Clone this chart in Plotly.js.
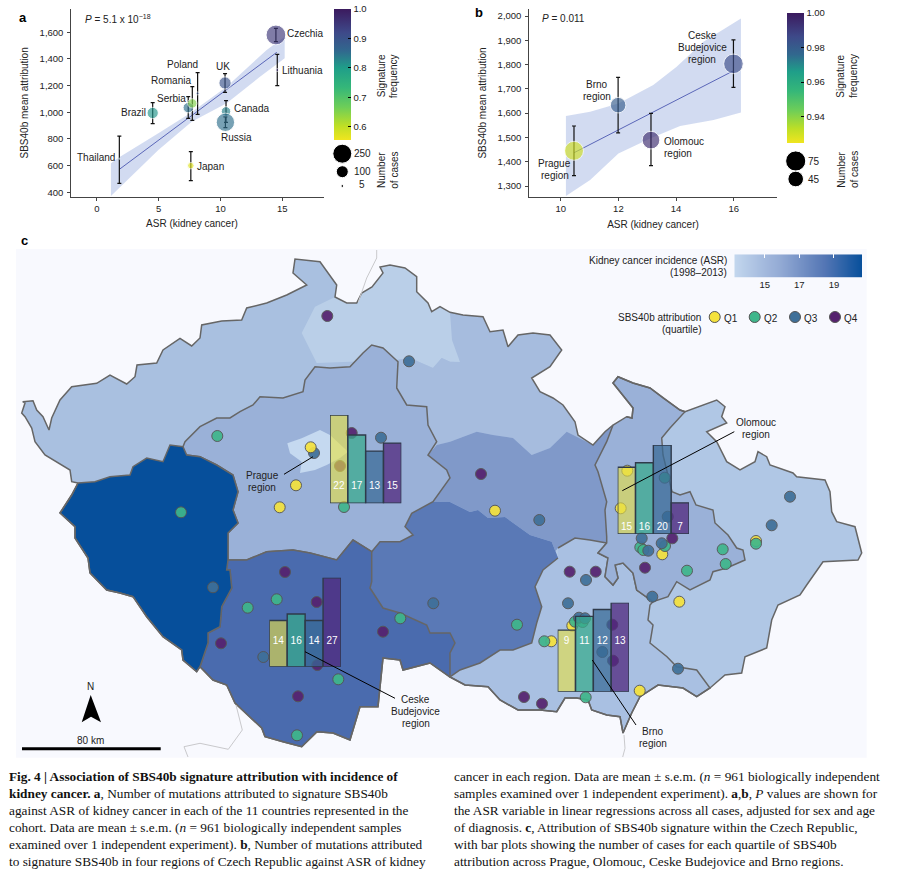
<!DOCTYPE html>
<html><head><meta charset="utf-8">
<script src="https://cdn.plot.ly/plotly-3.0.1.min.js"></script>
<style>html,body{margin:0;padding:0;background:#fff}#c{width:902px;height:882px}</style></head>
<body><div id="c"></div>
<script>
// ---------- panel a data ----------
const countries=['Thailand','Brazil','Japan','Serbia','Romania','Poland','UK','Canada','Russia','Czechia','Lithuania'];
const aAsr=[1.81,4.51,7.6,7.39,7.72,8.15,10.37,10.45,10.4,14.49,14.6];
const aMean=[652,995,600,1035,1067,1142,1220,1007,925,1580,1317];
const aErrUp=[170,77,105,82,125,155,70,80,40,50,118];
const aErrDown=[185,80,113,80,127,157,70,82,40,50,117];
const aCases=[1,89,30,75,62,6,105,62,235,273,6];
const aFreq=[0.8,0.81,0.57,0.85,0.65,0.9,0.9,0.83,0.85,0.95,0.97];
const aLineX=[1.81,14.56], aLineY=[572,1450];
const aBandX=[1.13,1.87,4.97,7.54,10.5,13.74,15.2,15.2,13.2,10.5,7.67,4.97,1.13];
const aBandY=[617,667,842,992,1192,1467,1567,1405,1267,1067,930,717,372];
// ---------- panel b data ----------
const regions=['Prague','Brno','Olomouc','Ceske Budejovice'];
const bAsr=[10.46,11.99,13.13,15.99];
const bMean=[1445,1633,1489,1803];
const bErrUp=[102,114,110,99];
const bErrDown=[102,114,105,97];
const bCases=[67,45,58,71];
const bFreq=[0.93,0.98,0.995,0.985];
const bLineX=[10.46,16], bLineY=[1437,1775];
const bBandX=[10.18,11.02,12,13.21,14.02,14.95,16.25,16.25,15.3,14.14,13.1,12,11.02,10.18];
const bBandY=[1588,1606,1640,1716,1791,1894,1990,1603,1572,1547,1496,1434,1325,1259];
// ---------- map outline segments (map units) ----------
const segA=[[78,483],[71.7,481.7],[70,470],[45,455],[35,441.7],[31.7,428],[25,416.7],[21.7,413],[25,403],[22.7,401.7],[33,400.7],[36.7,410],[43,416.7],[49,430],[51.7,418],[60,400],[71.7,386.7],[96.7,383.3],[110,375],[126.7,384],[135,376.7],[137,365],[156.7,363],[163,350],[180,338.3],[191.7,346],[200,338],[201.7,325],[221.7,321],[241.7,320],[246.7,308],[266.7,303],[286.7,295],[306.7,285],[293,273],[295,259],[320,261.7],[336.7,285],[335,297]];
const segB=[[346.7,303],[356.7,303],[361.7,293],[372,287],[383,273],[380,267],[390,265],[405,268],[416.7,276.7],[416.7,291.7],[428,303],[431.7,311.7],[440,306.7],[450,312.3]];
const segC=[[463,315],[483,316.7],[490,331.7],[503,330],[508,346.7],[518,335],[533,333],[550,335],[561.7,350],[550,366.7],[531.7,378],[540,391.7],[553,398],[563,405],[575,421.7],[578,435],[593,445]];
const segD=[[605,431.7],[613,425]];
const segD2=[[626.7,416.7],[632,418],[633,408],[613,383],[618,376.7],[633,383],[650,388],[663,398],[680,410],[685,411.7]];
const segE=[[716.7,400],[725,406.7],[721.7,416.7],[726.7,423],[706.7,431.7],[716.7,441.7],[726.7,461.7],[740,470],[755,461.7],[758,451.7],[766.7,456.7],[770,465],[793,473],[796.7,476.7],[825,480],[830,491.7],[831.7,511.7],[836.7,521.7],[855,526.7],[861.7,553],[858,560],[823,561.7],[806.7,585],[800,595],[778,605],[771.7,620],[766.7,648],[745,656.7],[741.7,673],[725,675],[710,688]];
const segF=[[696.7,696.7],[683,688],[658,685],[640,696.7],[631.7,713],[623,733],[620,716.7],[606.7,715],[591.7,710],[588,700],[576.7,698],[565,698],[556.7,711.7],[540,710],[518,710],[500,700],[488,686.7],[465,685],[450,677]];
const segG=[[430,663],[403,670],[400,660],[383,658],[378,706.7],[360,706.7],[350,740],[333,733],[317,731.7],[301.7,746.7],[283,741.7],[265,736.7],[261.7,728],[235,703],[226.7,685],[213,680],[200,666.7]];
const segH=[[196.7,671.7],[183,660],[181.7,650],[163,636.7],[146.7,616.7],[133,596.7],[120,593],[106.7,590],[90,573],[88,558],[75,538],[75,526.7],[60,513],[71.7,495],[78,483]];
const plzenNorth=[[95,481.7],[110,476.7],[130,475],[133,466.7],[146.7,458],[163,461.7],[170,445],[183,446.7],[186.7,455],[200,456.7],[216.7,465],[233,475],[238,491.7],[233,510],[238,523],[228,533],[228,560]];
const plzenEast=[[226.7,570],[230,570],[231.7,588],[221.7,606.7],[220,626.7],[208,633],[208,643],[200,666.7]];
const centralNorth=[[185,441.7],[200,426.7],[216.7,418],[230,418],[240,411.7],[253,405],[260,396.7],[283,398],[303,391.7],[305,380],[315,366.7],[330,368],[350,366.7],[363,353],[371.7,345],[383,348],[398,361.7],[396.7,388],[406.7,405],[426.7,406.7],[428,425],[436.7,441.7],[428,455],[446.7,470],[450,478],[433,501.7],[411.7,513.3],[405,526.7],[413,535],[400,541.7],[380,541.7],[371.7,551.7]];
const sbNorth=[[246.7,560],[266.7,551.7],[293,550],[310,553],[336.7,560],[353,540],[371.7,551.7]];
const sbEast=[[371.7,581.7],[370,588],[383,608],[400,613],[426.7,625],[430,633],[450,633],[455,643],[450,653],[450,677]];
const vysBorder=[[450,502],[470,512],[478,510],[488,518],[505,517],[530,535],[551.7,541.7],[558,558],[543,570],[535,586.7],[541.7,606.7],[536.7,623],[531.7,643],[513,650],[500,650],[480,663],[460,670],[450,677]];
const liberecEdge=[[460,362],[450,361.7],[441.7,358],[433,368],[410,358],[396.7,360],[316.7,363],[301.7,333],[315,306.7]];
const pardNorth=[[593,445],[566.7,431.7],[550,448],[531.7,455],[513,438],[493,435],[476.7,431.7],[450,441.7],[436.7,445]];
const brnoNorth=[[558,548],[575,538],[590,540],[606.7,543]];
const brnoEast=[[598,553],[608,558],[605,576.7],[613,585],[618,578],[615,565],[623,563],[633,573],[636.7,590],[653,601.7],[650,605],[648,620],[653,625],[650,643],[667,656.7],[676.7,666.7],[696.7,670],[710,688]];
const olomoucWest=[[613,425],[606.7,441.7],[595,465],[598,471.7],[606.7,501.7],[605,510],[606.7,536.7],[606.7,543],[598,553]];
const olomoucSouth=[[608,558],[605,576.7],[613,585],[618,578],[615,565],[623,563],[633,573],[636.7,590],[653,601.7],[668,596.7],[676.7,581.7],[690,590],[710,580],[713,571.7],[726.7,568],[745,560],[743,550],[736.7,548],[728,535],[715,523],[713,510],[696,505],[690,491.7],[680,495],[672,491.7],[663,455],[661.7,438],[670,428],[685,411.7]];
const pragueCity=[[287.3,443.3],[301.7,438.3],[320,430],[330,435],[348,451.7],[340,458],[326.7,465],[315,470],[300,473],[301.7,461.7],[290,453.3],[287.3,443.3]];
const riverNorth=[[376.7,250],[376.7,258],[366.7,278],[358.3,302]];
const riverSouthWest=[[236,705],[242.3,730],[228.3,749.3],[200,743.3],[184,746.7],[188,757]];
const riverSouthEast=[[624,735],[625,748.3],[622.7,757]];
// ---------- SBS40b sites by quartile ----------
const q1Sites=[[296,485.3],[279.7,507.3],[495,510.7],[627.3,470.7],[620.7,508.3],[756,541],[662.3,554.3],[679.3,601.7],[572.3,625.7],[551.3,641.3],[639.7,690.7]];
const q2Sites=[[217.3,436],[344,507],[181,512.3],[664.7,477.7],[756,543.7],[722.7,549.3],[640.3,547.3],[643.3,550],[665,546],[725.7,564],[687,570.7],[575,621.7],[582.7,622],[517,624.7],[544.3,641.3],[585.7,697.3],[276.7,599.3],[247.7,607.7],[400.3,618.3],[338.3,679.3],[297,735.3]];
const q3Sites=[[409,361.3],[314,453],[381,437.7],[790,496.7],[667.7,516.7],[539.3,520],[771.7,525.3],[641.7,538.3],[648.3,550.7],[661.7,543.3],[586,580],[652.3,596.7],[568,603.3],[579,617.7],[585,618.3],[602.3,652],[678,668.7],[213,587.3],[433.3,603.3],[263.3,657]];
const q4Sites=[[327.3,316],[351.7,433],[340,466],[481,474],[672.3,538.3],[645,567.7],[569.7,571.7],[595.7,571.7],[612.3,624.7],[613,660.7],[524,697],[542,703.7],[285,572],[316.7,602],[383,631.7],[221,643.3],[317.3,665],[298,696.3]];
const q1TopSite=[[310.7,447.3]];
const quartileNames=['Q1','Q2','Q3','Q4'];
const pragueBars=[22,17,13,15], olomoucBars=[15,16,20,7], ceskeBars=[14,16,14,27], brnoBars=[9,11,12,13];
const asrScale=[13.24,14,15,16,17,18,19,20,20.62];
const aSizeLegend=[250,100,5], bSizeLegend=[75,45];

// ---------- helpers ----------
const W=902,H=882;
const fx=p=>p/W, fy=p=>1-p/H;
const FONT='"Liberation Sans",Arial,sans-serif', TXT='#222';
const xs=a=>a.map(p=>p[0]), ys=a=>a.map(p=>p[1]);
const poly=(pts,fill,line)=>({type:'scatter',mode:line?'lines':'none',x:xs(pts),y:ys(pts),fill:'toself',fillcolor:fill,
  line:line?{color:'#666',width:1.5}:{width:0},hoverinfo:'skip',showlegend:false,xaxis:'x',yaxis:'y'});
const seq=(...s)=>s.flat();
const outer=seq(segA,segB,segC,segD,segD2,segE,segF,segG,segH);
const viridisR=[[0,'#f0e51f'],[0.11,'#bddf26'],[0.25,'#6ece58'],[0.4,'#35b779'],[0.55,'#1f9e89'],[0.68,'#31688e'],[0.82,'#3e4989'],[1,'#3b1a5e']];
const traces=[];
// country fills
traces.push(poly(outer,'#b0c7e5',false));
traces.push(poly(seq(segA,segB,[[450,361.7],[433,368],[410,358],[396.7,360]],centralNorth.slice(0,16).reverse(),[[183,446.7]],plzenNorth.slice(0,8).reverse()),'#a9c0e0',false));
traces.push(poly(seq([[335,297]],segB,liberecEdge),'#bacfe8',false));
traces.push(poly(seq([[450,312.3]],[[452,340],[460,362]],[[450,361.7],[441.7,358],[433,368],[410,358],[396.7,360]],[[396.7,388],[406.7,405],[426.7,406.7],[428,425],[436.7,445]],pardNorth.slice().reverse(),segC.slice().reverse()),'#a6bcde',false));
traces.push(poly(seq(pardNorth,[[428,455],[446.7,470],[450,478],[433,501.7]],vysBorder,[[558,548],[575,538],[590,540],[606.7,543],[606.7,501.7],[598,471.7],[595,465],[606.7,441.7],[613,425],[605,431.7]]),'#8099c9',false));
traces.push(poly(seq([[411.7,513.3],[433,501.7]],vysBorder,sbEast.slice().reverse(),[[371.7,551.7],[380,541.7],[400,541.7],[413,535],[405,526.7]]),'#5a79b6',false));
// outlined regions
traces.push(poly(seq(brnoNorth,brnoEast,segF,vysBorder.slice(7).reverse()),'#a9c0e2',true));
traces.push(poly(seq(olomoucWest,olomoucSouth,segD2.slice().reverse()),'#9ab1d8',true));
traces.push(poly(seq([[183,446.7]],centralNorth,sbNorth.slice().reverse(),[[228,560]],plzenNorth.slice(8).reverse()),'#9ab1d8',true));
traces.push(poly(seq([[228,560]],sbNorth,sbEast,segG,plzenEast.slice().reverse()),'#4a6bae',true));
traces.push(poly(seq([[78,483]],plzenNorth,plzenEast,segH),'#064f9b',true));
traces.push(poly(pragueCity,'#c5d9f0',false));
traces.push({type:'scatter',mode:'lines',x:xs(outer),y:ys(outer),line:{color:'#666',width:1.5},hoverinfo:'skip',showlegend:false});
[riverNorth,riverSouthWest,riverSouthEast].forEach(r=>traces.push({type:'scatter',mode:'lines',x:xs(r),y:ys(r),line:{color:'#c9c9cc',width:1},hoverinfo:'skip',showlegend:false}));
// sites
const siteColor={Q1:'#f5e23c',Q2:'#3fb68b',Q3:'#3f7099',Q4:'#55226e'};
[['Q1',q1Sites],['Q2',q2Sites],['Q3',q3Sites],['Q4',q4Sites],['Q1',q1TopSite]].forEach(([q,pts])=>traces.push({type:'scatter',mode:'markers',x:xs(pts),y:ys(pts),
  marker:{size:11,color:siteColor[q],opacity:0.92,line:{color:'#555',width:1}},name:q,hoverinfo:'skip',showlegend:false}));
// quartile legend
const qLegendX=[714.7,754.7,795,835];
traces.push({type:'scatter',mode:'markers',x:qLegendX,y:qLegendX.map(()=>317),marker:{size:11,color:quartileNames.map(q=>siteColor[q]),line:{color:'#555',width:1}},hoverinfo:'skip',showlegend:false});
// size legends
const aRef=1.392,bRef=0.37;
traces.push({type:'scatter',mode:'markers',x:[342.3,342.3,342.3],y:[153.7,171.7,186],marker:{color:'#000',opacity:1,size:aSizeLegend,sizemode:'area',sizeref:aRef},hoverinfo:'skip',showlegend:false});
traces.push({type:'scatter',mode:'markers',x:[795.7,795.7],y:[161,179],marker:{color:'#000',opacity:1,size:bSizeLegend,sizemode:'area',sizeref:bRef},hoverinfo:'skip',showlegend:false});

const tickF={family:FONT,size:9.5,color:TXT};
const cbar=(left,bottom,len,vals,fmt)=>({x:fx(left),xanchor:'left',xpad:0,ypad:0,y:fy(bottom),yanchor:'bottom',lenmode:'pixels',len:len,thicknessmode:'pixels',thickness:17,outlinewidth:0,
  tickvals:vals,tickformat:fmt,ticks:'inside',ticklen:3,tickcolor:'#000',tickfont:tickF});
// panel a
traces.push({type:'scatter',mode:'none',x:aBandX,y:aBandY,fill:'toself',fillcolor:'rgba(130,155,215,0.36)',xaxis:'x2',yaxis:'y2',hoverinfo:'skip',showlegend:false});
traces.push({type:'scatter',mode:'lines',x:aLineX,y:aLineY,line:{color:'#5a66b8',width:1},xaxis:'x2',yaxis:'y2',hoverinfo:'skip',showlegend:false});
const aMarker={size:aCases,sizemode:'area',sizeref:aRef,color:aFreq,cmin:0.5546,cmax:1,colorscale:viridisR,opacity:0.65,showscale:true,colorbar:cbar(334,140,130.7,[0.6,0.7,0.8,0.9,1],'.1f')};
traces.push({type:'scatter',mode:'markers',x:aAsr,y:aMean,text:countries,xaxis:'x2',yaxis:'y2',showlegend:false,
  error_y:{type:'data',symmetric:false,array:aErrUp,arrayminus:aErrDown,color:'#111',thickness:1.2,width:2},marker:aMarker});
// panel b
traces.push({type:'scatter',mode:'none',x:bBandX,y:bBandY,fill:'toself',fillcolor:'rgba(130,155,215,0.36)',xaxis:'x3',yaxis:'y3',hoverinfo:'skip',showlegend:false});
traces.push({type:'scatter',mode:'lines',x:bLineX,y:bLineY,line:{color:'#5a66b8',width:1},xaxis:'x3',yaxis:'y3',hoverinfo:'skip',showlegend:false});
const bMarker={size:bCases,sizemode:'area',sizeref:bRef,color:bFreq,cmin:0.925,cmax:1,colorscale:viridisR,opacity:0.65,showscale:true,colorbar:cbar(787.3,142.7,130.4,[0.94,0.96,0.98,1],'.2f')};
traces.push({type:'scatter',mode:'markers',x:bAsr,y:bMean,text:regions,xaxis:'x3',yaxis:'y3',showlegend:false,
  error_y:{type:'data',symmetric:false,array:bErrUp,arrayminus:bErrDown,color:'#111',thickness:1.2,width:2},marker:bMarker});
// incidence scale
traces.push({type:'heatmap',x:asrScale,y:[0,1],z:[asrScale,asrScale],zsmooth:'best',xaxis:'x4',yaxis:'y4',showscale:false,hoverinfo:'skip',
  colorscale:[[0,'#c3d7ee'],[0.35,'#94abd5'],[0.7,'#5577b5'],[1,'#064f9b']]});

// ---------- layout ----------
const axisBase={showline:true,linecolor:'#444',linewidth:1,showgrid:false,zeroline:false,ticks:'outside',ticklen:3,tickcolor:'#444',tickwidth:1,tickfont:tickF,fixedrange:true};
const titleF={family:FONT,size:10,color:TXT};
const layout={width:W,height:H,margin:{l:0,r:0,t:0,b:0},paper_bgcolor:'#fff',plot_bgcolor:'rgba(0,0,0,0)',showlegend:false,bargap:0,
  xaxis:{domain:[0,1],range:[0,W],visible:false,fixedrange:true},
  yaxis:{domain:[0,1],range:[H,0],visible:false,fixedrange:true},
  xaxis2:{...axisBase,domain:[fx(71.3),fx(323.7)],range:[-2.08,18.36],tickvals:[0,5,10,15],anchor:'y2',title:{text:'ASR (kidney cancer)&nbsp;&nbsp;&nbsp;&nbsp;',font:titleF,standoff:7}},
  yaxis2:{...axisBase,domain:[fy(196.5),fy(9.3)],range:[368.5,1772.5],tickvals:[400,600,800,1000,1200,1400,1600],tickformat:',',ticklabelstandoff:2,anchor:'x2',title:{text:'SBS40b mean attribution',font:titleF,standoff:9}},
  xaxis3:{...axisBase,domain:[fx(529.3),fx(776.7)],range:[8.91,17.49],tickvals:[10,12,14,16],anchor:'y3',title:{text:'ASR (kidney cancer)',font:titleF,standoff:7}},
  yaxis3:{...axisBase,domain:[fy(196.7),fy(9.3)],range:[1256,2027.6],tickvals:[1300,1400,1500,1600,1700,1800,1900,2000],tickformat:',',ticklabelstandoff:2,anchor:'x3',title:{text:'SBS40b mean attribution',font:titleF,standoff:9}},
  xaxis4:{domain:[fx(734.3),fx(862)],range:[13.24,20.62],anchor:'y4',tickvals:[15,17,19],ticks:'',showline:false,showgrid:false,zeroline:false,tickfont:tickF,fixedrange:true},
  yaxis4:{domain:[fy(277.7),fy(254.3)],range:[0,1],visible:false,anchor:'x4',fixedrange:true},
  xaxis5:{overlaying:'x4',side:'top',anchor:'y4',range:[13.24,20.62],tickvals:[15,17,19],ticks:'inside',ticklen:4,tickcolor:'#fff',showticklabels:false,showline:false,showgrid:false,zeroline:false,fixedrange:true},
  annotations:[],
  shapes:[{type:'rect',xref:'paper',yref:'paper',x0:fx(16),x1:fx(866.7),y0:fy(757.7),y1:fy(249),fillcolor:'#f8f9fe',line:{width:0},layer:'below'}]
};
// overlay tick axis needs a trace so it is drawn
traces.push({type:'scatter',mode:'none',x:[15],y:[0.5],xaxis:'x5',yaxis:'y4',hoverinfo:'skip',showlegend:false});

// bar groups
const barColors=['rgba(231,225,70,0.62)','rgba(55,170,140,0.72)','rgba(55,105,150,0.72)','rgba(80,40,125,0.75)'];
const barGroups=[
 {vals:pragueBars,l:330,r:401.3,b:503.3,t:415,lab:16.6},
 {vals:olomoucBars,l:617.7,r:689,b:534,t:445,lab:6.7},
 {vals:ceskeBars,l:269.3,r:341,b:666.7,t:577.7,lab:25},
 {vals:brnoBars,l:557.7,r:629,b:691.7,t:602.7,lab:50}];
barGroups.forEach((g,i)=>{
  const n=6+i, xa='x'+n, ya='y'+n, mx=Math.max(...g.vals);
  layout['xaxis'+n]={domain:[fx(g.l),fx(g.r)],type:'category',categoryarray:quartileNames,range:[-0.5,3.5],visible:false,anchor:ya,fixedrange:true};
  layout['yaxis'+n]={domain:[fy(g.b),fy(g.t)],range:[0,mx],visible:false,anchor:xa,fixedrange:true};
  traces.push({type:'bar',x:quartileNames,y:g.vals,xaxis:xa,yaxis:ya,width:1,cliponaxis:false,marker:{color:barColors,line:{color:'#2f3a4a',width:1.4}},hoverinfo:'skip',showlegend:false});
  const ly=g.lab*mx/(g.b-g.t);
  traces.push({type:'scatter',mode:'text',x:quartileNames,y:g.vals.map(()=>ly),text:g.vals.map(String),textposition:'middle center',cliponaxis:false,
    textfont:{family:FONT,size:10,color:'#fff'},xaxis:xa,yaxis:ya,hoverinfo:'skip',showlegend:false});
});

// text
const note=(text,x,y,o={})=>layout.annotations.push({text,x:fx(x),y:fy(y),xref:'paper',yref:'paper',showarrow:false,xanchor:o.a||'center',yanchor:'middle',
  textangle:o.rot||0,borderpad:0,font:{family:o.family||FONT,size:o.size||10,color:o.color||TXT}});
note('<b>a</b>',23.3,17.3,{size:13,color:'#000'});note('<b>b</b>',479.3,12,{size:13,color:'#000'});note('<b>c</b>',24,240,{size:13,color:'#000'});
note('<i>P</i> = 5.1 x 10<sup>−18</sup>',83.7,19.3,{a:'left',size:10});
note('<i>P</i> = 0.011',541,18.3,{a:'left',size:10});
[['Czechia',285.7,33.7,'left'],['Lithuania',281,70.7,'left'],['UK',223,66.3],['Poland',182.7,64.7],['Romania',171,80.7],['Serbia',171.3,98.7],['Brazil',133.7,112.7],['Canada',251.7,108.7],['Russia',236.3,137.7],['Thailand',96,157.7],['Japan',210.3,166.7],
 ['Ceske',702,35.7],['Budejovice',702,47.7],['region',702,59.7],['Brno',597.3,84.7],['region',597.3,96.7],['Prague',554.7,163.7],['region',554.7,175.7],['Olomouc',662.7,141.7,'left'],['region',662.7,153.7,'left'],
 ['250',353,153.7,'left'],['100',353,171.7,'left'],['5',358,184.7,'left'],['75',807,161,'left'],['45',807,179,'left'],
 ['Prague',262.3,475.7],['region',262.3,487.7],['Ceske',415.7,699.7],['Budejovice',415.7,711.7],['region',415.7,723.7],['Olomouc',756,422.7],['region',756,434.7],['Brno',652.7,731.7],['region',652.7,743.7],
 ['N',90.7,686.3],['80 km',90.7,740.7],
 ['Kidney cancer incidence (ASR)',728.3,260.7,'right'],['(1998–2013)',728.3,272.7,'right'],['SBS40b attribution',702.3,317.7,'right'],['(quartile)',702.3,329.7,'right'],
 ['Q1',723.3,318.3,'left'],['Q2',763.3,318.3,'left'],['Q3',803.3,318.3,'left'],['Q4',843.3,318.3,'left']
].forEach(t=>note(t[0],t[1],t[2],{a:t[3]}));
[['Signature',382.3,76],['frequency',394.3,76],['Number',381,170],['of cases',393.7,170],['Signature',840.7,76],['frequency',854,76],['Number',840.7,170],['of cases',854,170]].forEach(t=>note(t[0],t[1],t[2],{rot:-90}));
// caption
const SER='"Liberation Serif",serif';
const capY=[776.7,793.7,810.7,827,844,861];
['<b>Fig. 4 | Association of SBS40b signature attribution with incidence of</b>',
 '<b>kidney cancer. a</b>, Number of mutations attributed to signature SBS40b',
 'against ASR of kidney cancer in each of the 11 countries represented in the',
 'cohort. Data are mean ± s.e.m. (<i>n</i> = 961 biologically independent samples',
 'examined over 1 independent experiment). <b>b</b>, Number of mutations attributed',
 'to signature SBS40b in four regions of Czech Republic against ASR of kidney'].forEach((l,i)=>note(l,7.5,capY[i],{a:'left',family:SER,size:13.3,color:'#111'}));
['cancer in each region. Data are mean ± s.e.m. (<i>n</i> = 961 biologically independent',
 'samples examined over 1 independent experiment). <b>a</b>,<b>b</b>, <i>P</i> values are shown for',
 'the ASR variable in linear regressions across all cases, adjusted for sex and age',
 'of diagnosis. <b>c</b>, Attribution of SBS40b signature within the Czech Republic,',
 'with bar plots showing the number of cases for each quartile of SBS40b',
 'attribution across Prague, Olomouc, Ceske Budejovice and Brno regions.'].forEach((l,i)=>note(l,453,capY[i],{a:'left',family:SER,size:13.3,color:'#111'}));
// leaders, scale bar, north arrow
[[284,474.3,313,456.7],[305,651.7,395,698.3],[622.3,490.7,734.3,431.7],[592.3,660,636,725]].forEach(s=>layout.shapes.push({type:'line',xref:'x',yref:'y',x0:s[0],y0:s[1],x1:s[2],y1:s[3],line:{color:'#000',width:1},layer:'above'}));
layout.shapes.push({type:'line',xref:'x',yref:'y',x0:22,x1:160.7,y0:748.7,y1:748.7,line:{color:'#000',width:3},layer:'above'});
layout.shapes.push({type:'path',xref:'x',yref:'y',path:'M90.7,695 L81.7,722.3 L91,716.7 L101,722.3 Z',fillcolor:'#000',line:{width:0},layer:'above'});
Plotly.newPlot('c',traces,layout,{displayModeBar:false,responsive:false,staticPlot:true});
</script></body></html>
